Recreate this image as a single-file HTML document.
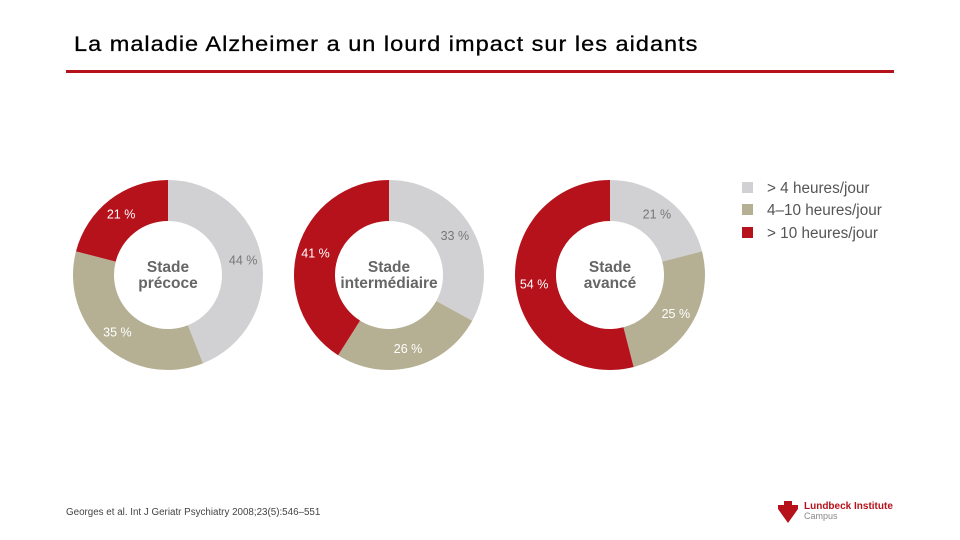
<!DOCTYPE html>
<html><head><meta charset="utf-8"><style>
body{margin:0;width:960px;height:540px;background:#fff;font-family:"Liberation Sans",sans-serif;position:relative;overflow:hidden}
#title{position:absolute;left:74px;top:33px;font-size:21px;line-height:24px;color:#000;letter-spacing:0.9px;white-space:nowrap;transform-origin:0 0;transform:scaleX(1.12);-webkit-text-stroke:0.3px #000}
#rule{position:absolute;left:66px;top:70px;width:828px;height:3px;background:#b5121b}
#src{position:absolute;left:66px;top:507px;font-size:9.8px;color:#444}
.leg{position:absolute;left:742px;font-size:15.3px;color:#555}
.leg span{display:inline-block;width:11px;height:11px;margin-right:14px;vertical-align:0px}
</style></head><body>
<div id="title">La maladie Alzheimer a un lourd impact sur les aidants</div>
<div id="rule"></div>
<svg id="chart" width="960" height="540" style="position:absolute;left:0;top:0"></svg>
<div class="leg" style="top:180px"><span style="background:#d1d1d3"></span>&gt; 4 heures/jour</div>
<div class="leg" style="top:202px"><span style="background:#b5b093"></span>4–10 heures/jour</div>
<div class="leg" style="top:225px"><span style="background:#b5121b"></span>&gt; 10 heures/jour</div>
<div id="src">Georges et al. Int J Geriatr Psychiatry 2008;23(5):546–551</div>
<svg width="130" height="30" style="position:absolute;left:778px;top:497px">
<path d="M6 4h8v4h6v4l-10 14L0 12V8h6z" fill="#b5121b"/>
<text x="26" y="12" font-size="10" font-weight="bold" fill="#b5121b" font-family="Liberation Sans">Lundbeck Institute</text>
<text x="26" y="22" font-size="9" fill="#888" font-family="Liberation Sans">Campus</text>
</svg>
<script>
const stages=[["Stade","précoce"],["Stade","intermédiaire"],["Stade","avancé"]];
const lowValues=[44,33,21];
const midValues=[35,26,25];
const highValues=[21,41,54];
const colors=["#d1d1d3","#b5b093","#b5121b"];
const textColors=["#777","#fff","#fff"];
const svg=document.getElementById('chart');
const NS="http://www.w3.org/2000/svg";
const cx0=168,dx=221,cy=275,R=95,r=54;
function pt(a,rad,cx){return [cx+rad*Math.sin(a),cy-rad*Math.cos(a)];}
stages.forEach((st,i)=>{
  const cx=cx0+i*dx;
  const vals=[lowValues[i],midValues[i],highValues[i]];
  const tot=vals.reduce((a,b)=>a+b,0);
  let a0=0;
  vals.forEach((v,k)=>{
    const a1=a0+v/tot*2*Math.PI;
    const large=(a1-a0)>Math.PI?1:0;
    const [x1,y1]=pt(a0,R,cx),[x2,y2]=pt(a1,R,cx),[x3,y3]=pt(a1,r,cx),[x4,y4]=pt(a0,r,cx);
    const p=document.createElementNS(NS,'path');
    p.setAttribute('d',`M${x1} ${y1}A${R} ${R} 0 ${large} 1 ${x2} ${y2}L${x3} ${y3}A${r} ${r} 0 ${large} 0 ${x4} ${y4}Z`);
    p.setAttribute('fill',colors[k]);
    
    
    svg.appendChild(p);
    const [tx,ty]=pt((a0+a1)/2,(R+r)/2+2,cx);
    const t=document.createElementNS(NS,'text');
    t.setAttribute('x',tx);t.setAttribute('y',ty+4);
    t.setAttribute('text-anchor','middle');t.setAttribute('font-size','12.5');
    t.setAttribute('fill',textColors[k]);t.setAttribute('font-family','Liberation Sans');
    t.textContent=v+' %';
    
    
    svg.appendChild(t);
    a0=a1;
  });
  st.forEach((line,j)=>{
    const t=document.createElementNS(NS,'text');
    t.setAttribute('x',cx);t.setAttribute('y',cy-3+j*16);
    t.setAttribute('text-anchor','middle');t.setAttribute('font-size','15.5');
    t.setAttribute('font-weight','bold');t.setAttribute('fill','#666');
    t.setAttribute('font-family','Liberation Sans');
    t.textContent=line;
    
    
    svg.appendChild(t);
  });
});
</script>
</body></html>
